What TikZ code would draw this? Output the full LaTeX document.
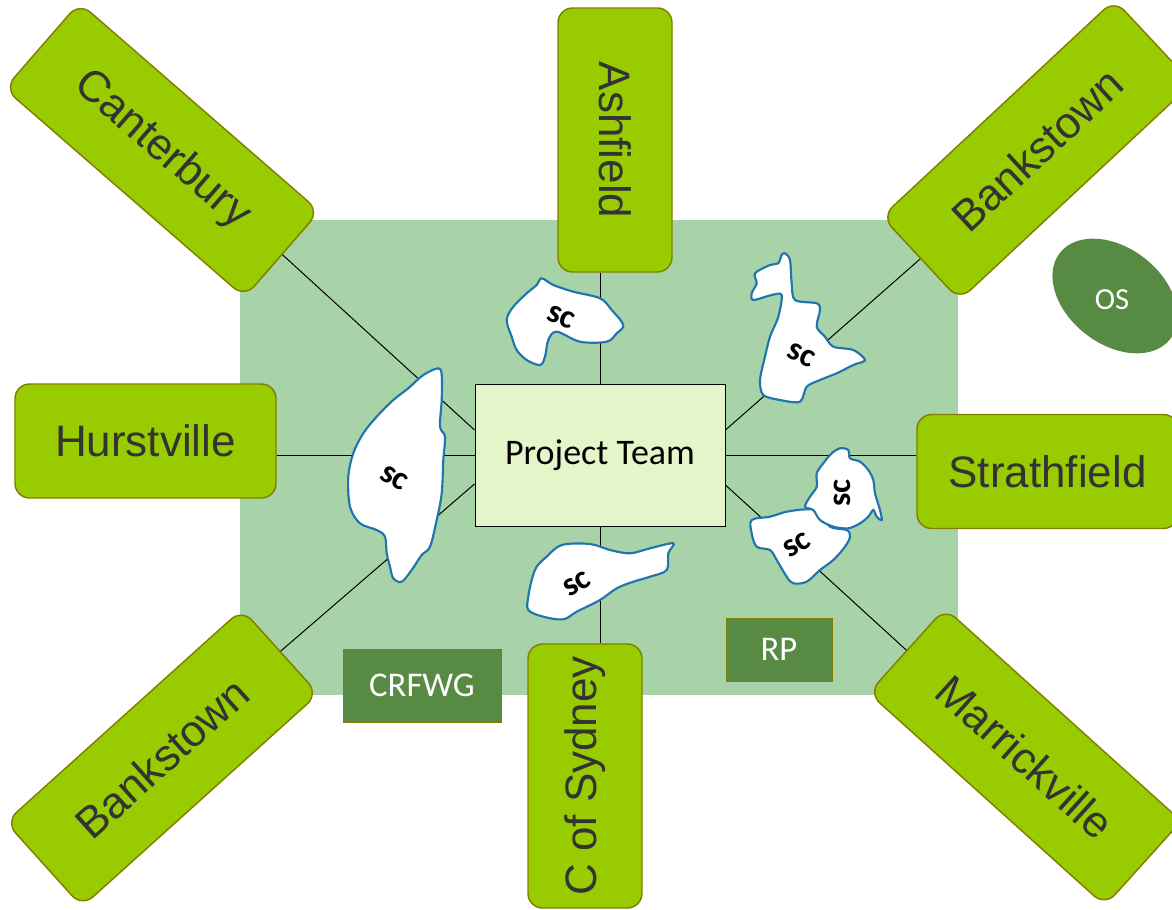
\documentclass[tikz,border=0pt]{standalone}
\usepackage{fontspec}
\setmainfont{Liberation Sans}
\newfontfamily\calib{Carlito}
\usetikzlibrary{calc,shapes.geometric}
\definecolor{bgreen}{HTML}{A8D3A8}
\definecolor{boxgreen}{HTML}{99CC00}
\definecolor{olive}{HTML}{808000}
\definecolor{ptfill}{HTML}{E4F5CA}
\definecolor{dkgreen}{HTML}{578A43}
\definecolor{blobline}{HTML}{1F75AE}
\definecolor{txtgray}{HTML}{333333}
\tikzset{
  council/.style={draw=olive, line width=1.1pt, fill=boxgreen, rounded corners=11pt,
    inner sep=0pt, text=txtgray, font=\fontsize{33}{36}\selectfont,
    minimum width=#1, minimum height=85.5pt},
  council/.default=198pt,
  ptbox/.style={draw=black, line width=0.75pt, fill=ptfill, inner sep=0pt,
    minimum width=187.5pt, minimum height=106.5pt, font=\calib\fontsize{27}{30}\selectfont},
  smallbox/.style={draw=olive, line width=0.6pt, fill=dkgreen, inner sep=0pt, text=white,
    font=\calib\fontsize{26}{28}\selectfont},
  conn/.style={draw=black, line width=0.75pt},
  blob/.style={draw=blobline, line width=1.6pt, fill=white},
  sclabel/.style={font=\calib\bfseries\fontsize{25}{27}\selectfont, inner sep=0pt}
}
\begin{document}
\begin{tikzpicture}[x=0.75pt,y=-0.75pt]
\useasboundingbox (0,0) rectangle (1172,910);
\clip (0,0) rectangle (1172,910);
% background
\fill[bgreen] (240,220) rectangle (958,695);
% central node
\node[ptbox] (pt) at (600,455) {Project Team};
% council boxes
\node[council=238.5pt, rotate=-41] (cant) at (162,150) {Canterbury};
\node[council] (ash) at (615,140) [rotate=-90] {Ashfield};
\node[council=238.5pt, rotate=43] (banktr) at (1037,150) {Bankstown};
\node[council=195.75pt] (hurst) at (145.5,441) {Hurstville};
\node[council=195.75pt] (strath) at (1047.5,471.5) {Strathfield};
\node[council=238.5pt, rotate=42] (bankbl) at (162,758) {Bankstown};
\node[council] (cofs) at (585,776) [rotate=90] {C of Sydney};
\node[council=238.5pt, rotate=-42] (marr) at (1025,757) {Marrickville};
% connectors
\draw[conn] (cant.east) -- ($(pt.west)+(0,-25)$);
\draw[conn] (pt.west) -- (pt.west -| hurst.east);
\draw[conn] (bankbl.east) -- ($(pt.west)+(0,29)$);
\draw[conn] (pt.north) -- (pt.north |- ash.east);
\draw[conn] (pt.south) -- (pt.south |- cofs.east);
\draw[conn] (banktr.west) -- ($(pt.east)+(0,-25)$);
\draw[conn] (pt.east) -- (pt.east -| strath.west);
\draw[conn] (marr.west) -- ($(pt.east)+(0,30)$);
% blobs
\draw[blob] plot[smooth cycle, tension=0.55] coordinates {
 (541.7,278.3) (553.3,285) (573.3,291.7) (600,298.3) (611.7,310) (623.3,325)
 (616.7,333.3) (606.7,341.7) (580,341.7) (556.7,331.7) (548.3,340) (545,356.7)
 (540,365) (526.7,360) (516.7,350) (511.7,336.7) (506.7,320) (513.3,306.7)
 (526.7,293.3) (536.7,285)};
\node[sclabel, rotate=-22] (sc1) at (561,317) {sc};
\draw[blob] plot[smooth cycle, tension=0.55] coordinates {
 (438.3,368.3) (441.7,375) (441.7,400) (440,426.7) (445,436.7) (443.3,460)
 (441.7,493.3) (436.7,520) (430,546.7) (421.7,555) (411.7,570) (401.7,581.7)
 (393.3,578.3) (390,566.7) (386.7,553.3) (385,536.7) (376.7,530) (360,523.3)
 (350,506.7) (348.3,476.7) (353.3,453.3) (363.3,433.3) (376.7,416.7) (393.3,400)
 (408.3,388.3) (423.3,375)};
\node[sclabel, rotate=-30] (sc2) at (394,478) {sc};
\draw[blob] plot[smooth cycle, tension=0.55] coordinates {
 (561.7,545) (590,544) (610,550) (630,553.3) (650,548.3) (673.3,543.3)
 (668.3,553.3) (666.7,570) (650,576.7) (633.3,581.7) (616.7,588.3) (600,600)
 (576.7,611.7) (563.3,619.3) (543.3,616.7) (528.3,610) (528.3,596.7) (531.7,580)
 (536.7,566.7) (546.7,556.7)};
\node[sclabel, rotate=30] (sc3) at (577,584) {sc};
\draw[blob] plot[smooth cycle, tension=0.5] coordinates {
 (785,253.3) (790,260) (791.7,283.3) (795,300) (816.7,303.3) (820,310)
 (816.7,326.7) (825,336.7) (833.3,346.7) (853.3,350) (865,360) (853.3,365)
 (836.7,373.3) (820,380) (806.7,386.7) (800,401.7) (780,400) (763.3,395)
 (760,380) (765,356.7) (770,336.7) (778.3,316.7) (781.7,295) (771.7,295)
 (753.3,300) (751.7,293.3) (756.7,283.3) (755,273.3) (770,265) (778.3,263.3)
 (781.7,255)};
\node[sclabel, rotate=-25] (sc4) at (801,355) {sc};
\draw[blob] plot[smooth cycle, tension=0.55] coordinates {
 (751.7,520) (770,516.7) (786.7,511.7) (806.7,509.3) (820,511.7) (830,526.7)
 (846.7,530) (850,536.7) (845,546.7) (833.3,560) (820,570) (806.7,581.7)
 (793.3,583.3) (786.7,576.7) (776.7,560) (770,550) (756.7,546.7) (751.7,533.3)};
\node[sclabel, rotate=30] (sc6) at (797,545) {sc};
\draw[blob] plot[smooth cycle, tension=0.5] coordinates {
 (840,448.3) (848.3,450) (850,458.3) (860,461.7) (868.3,470) (873.3,480)
 (875,493.3) (880,510) (881.7,520) (876.7,516.7) (873.3,510) (868.3,516.7)
 (860,523.3) (848.3,528.3) (833.3,526.7) (820,520) (813.3,510) (805,506.7)
 (810,496.7) (816.7,486.7) (816.7,473.3) (823.3,463.3) (831.7,453.3)};
\node[sclabel, rotate=90] (sc5) at (842,493) {sc};
% small boxes
\node[smallbox, minimum width=118.5pt, minimum height=54.75pt] (crfwg) at (422,685.5) {CRFWG};
\node[smallbox, minimum width=79.5pt, minimum height=47.25pt] (rp) at (779,649.5) {RP};
% OS ellipse
\node[ellipse, fill=dkgreen, inner sep=0pt, minimum width=105pt, minimum height=72pt, rotate=-38] (os) at (1115,296) {};
\node[text=white, font=\calib\fontsize{23}{25}\selectfont, inner sep=0pt] (oslabel) at (1112,300) {OS};
\end{tikzpicture}
\end{document}
